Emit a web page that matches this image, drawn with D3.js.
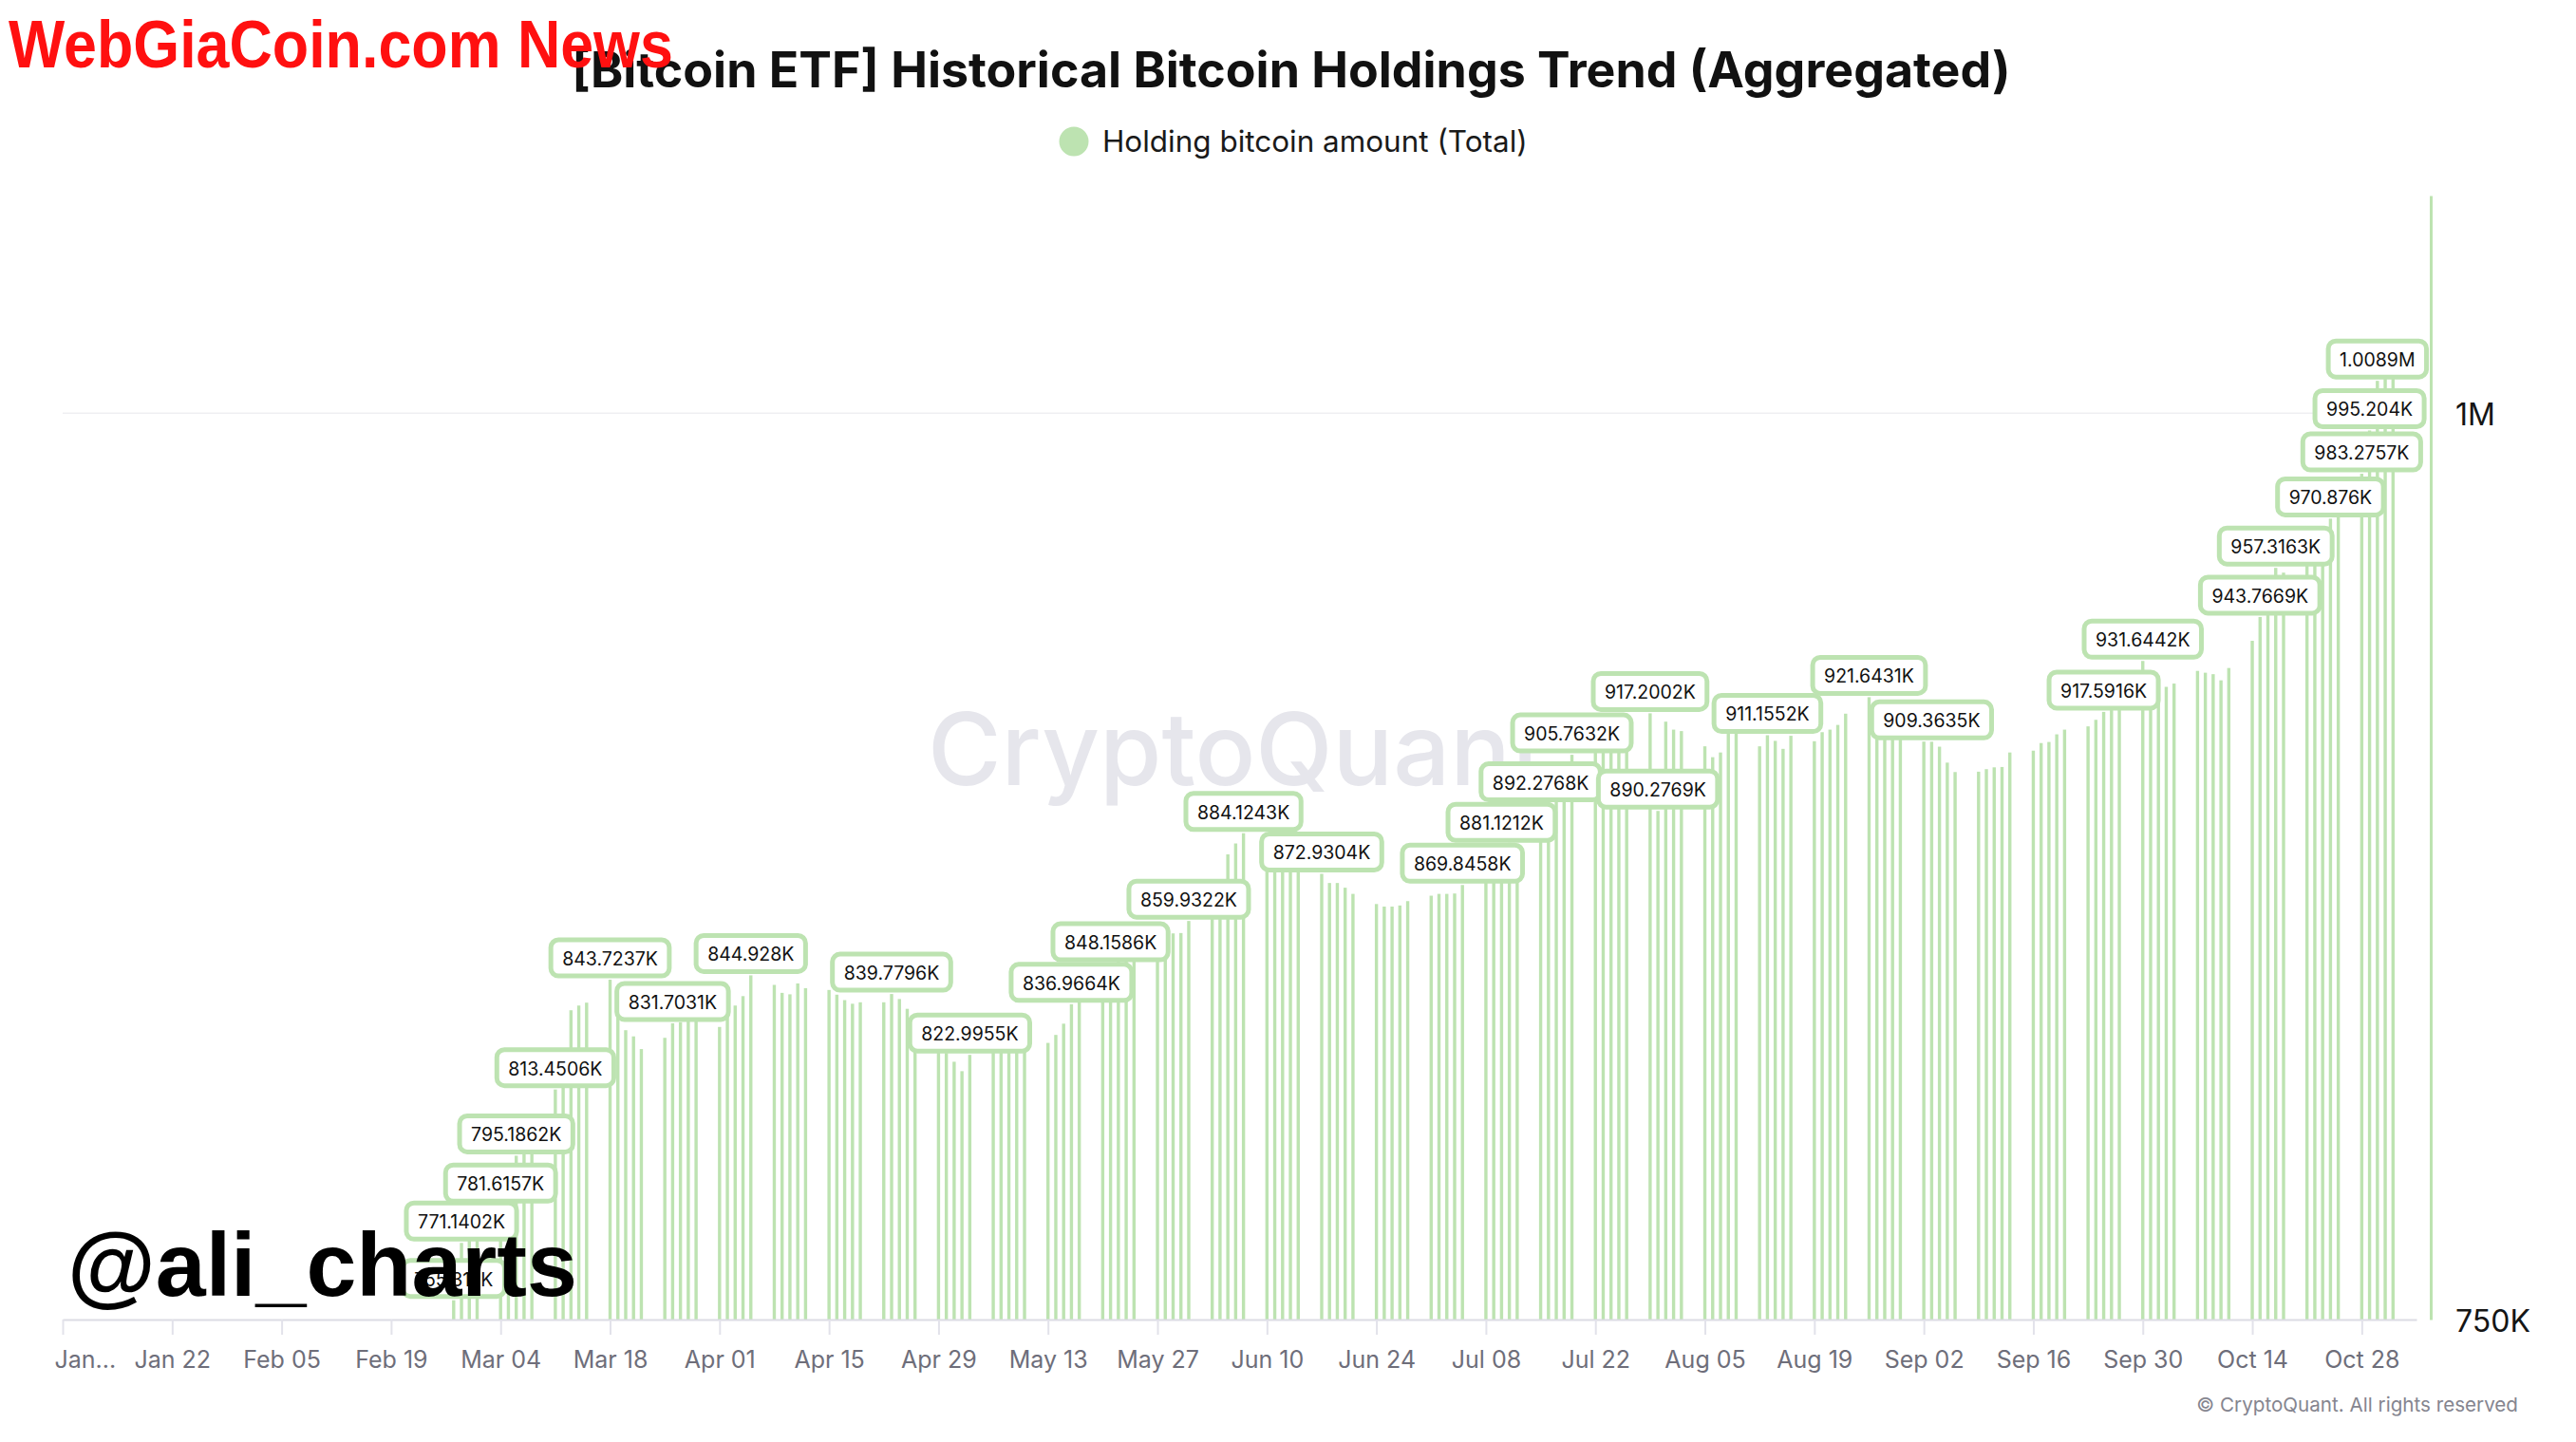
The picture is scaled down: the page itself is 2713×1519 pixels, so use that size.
<!DOCTYPE html>
<html>
<head>
<meta charset="utf-8">
<script src="https://cdn.jsdelivr.net/npm/d3@7/dist/d3.min.js"></script>
<style>
  body { margin: 0; background: #fff; }
  svg { display: block; }
</style>
</head>
<body>
<div id="chart-container"></div>
<script>
// Mondays of each trading week shown (bars below 750K are off the axis)
var weekStarts = [
  "2024-02-26", "2024-03-04", "2024-03-11", "2024-03-18", "2024-03-25",
  "2024-04-01", "2024-04-08", "2024-04-15", "2024-04-22", "2024-04-29",
  "2024-05-06", "2024-05-13", "2024-05-20", "2024-05-27", "2024-06-03",
  "2024-06-10", "2024-06-17", "2024-06-24", "2024-07-01", "2024-07-08",
  "2024-07-15", "2024-07-22", "2024-07-29", "2024-08-05", "2024-08-12",
  "2024-08-19", "2024-08-26", "2024-09-02", "2024-09-09", "2024-09-16",
  "2024-09-23", "2024-09-30", "2024-10-07", "2024-10-14", "2024-10-21",
  "2024-10-28"
];

// holding bitcoin amount (total), in thousands of BTC, Mon..Fri
var holdings = [
  [745.2, 755.3170, 771.1402, 775.0, 778.0],
  [781.6157, 788.0, 795.1862, 797.0, 799.0],
  [813.4506, 819.0, 835.3, 836.6, 837.4],
  [843.7237, 834.5, 829.8, 828.1, 824.6],
  [827.7, 831.7031, 832.0, 832.3, 832.3],
  [830.7, 833.5, 836.6, 839.2, 844.928],
  [842.3, 840.1, 839.7, 842.7, 841.4],
  [840.9, 839.6, 838.1, 837.1, 837.5],
  [837.5, 839.7796, 838.4, 835.7, 828.0],
  [824.0, 823.5, 821.1, 818.5, 822.9955],
  [824.0, 825.0, 825.5, 826.0, 826.5],
  [826.3, 828.5, 831.6, 836.9664, 838.0],
  [842.0, 848.1586, 849.5, 850.5, 851.0],
  [851.5, 852.5, 856.5, 856.6, 859.9322],
  [863.0, 870.8, 878.3, 881.3, 884.1243],
  [878.0, 877.0, 876.0, 875.0, 874.0],
  [872.9304, 870.4, 870.4, 869.1, 867.4],
  [864.6, 863.9, 863.9, 864.2, 865.4],
  [866.9, 867.4, 867.4, 867.5, 869.8458],
  [874.0, 877.0, 881.1212, 881.5, 880.5],
  [892.2768, 893.5, 895.0, 897.0, 905.7632],
  [907.0, 908.0, 907.5, 906.5, 908.5],
  [917.2002, 890.2769, 914.9, 912.7, 912.3],
  [908.1, 905.1, 906.4, 912.0, 913.0],
  [908.1, 911.1552, 909.6, 907.4, 911.0],
  [909.5, 912.0, 912.7, 914.0, 917.1],
  [921.6431, 916.0, 914.0, 912.0, 911.0],
  [909.4, 909.3635, 908.0, 903.6, 901.0],
  [901.1, 901.8, 902.3, 902.4, 906.4],
  [906.9, 909.0, 909.3, 911.4, 912.7],
  [913.6, 915.4, 917.5916, 922.0, 929.0],
  [931.6442, 925.0, 924.0, 924.5, 925.4],
  [928.9, 928.4, 928.0, 926.3, 929.7],
  [937.2, 943.7669, 948.0, 957.3163, 956.0],
  [958.0, 960.0, 962.0, 970.876, 972.0],
  [983.2757, 995.204, 1008.9, 1009.6, 1010.4]
];

// days whose value label is shown
var labelDates = [
  "2024-02-27", "2024-02-28", "2024-03-04", "2024-03-06", "2024-03-11",
  "2024-03-18", "2024-03-26", "2024-04-05", "2024-04-23", "2024-05-03",
  "2024-05-16", "2024-05-21", "2024-05-31", "2024-06-07", "2024-06-17",
  "2024-07-05", "2024-07-10", "2024-07-15", "2024-07-19", "2024-07-29",
  "2024-07-30", "2024-08-13", "2024-08-26", "2024-09-03", "2024-09-25",
  "2024-09-30", "2024-10-15", "2024-10-17", "2024-10-24", "2024-10-28",
  "2024-10-29", "2024-10-30"
];

var xTickDates = [
  "2024-01-08", "2024-01-22", "2024-02-05", "2024-02-19", "2024-03-04",
  "2024-03-18", "2024-04-01", "2024-04-15", "2024-04-29", "2024-05-13",
  "2024-05-27", "2024-06-10", "2024-06-24", "2024-07-08", "2024-07-22",
  "2024-08-05", "2024-08-19", "2024-09-02", "2024-09-16", "2024-09-30",
  "2024-10-14", "2024-10-28"
];
var xTickLabels = [
  "Jan...", "Jan 22", "Feb 05", "Feb 19", "Mar 04", "Mar 18", "Apr 01",
  "Apr 15", "Apr 29", "May 13", "May 27", "Jun 10", "Jun 24", "Jul 08",
  "Jul 22", "Aug 05", "Aug 19", "Sep 02", "Sep 16", "Sep 30", "Oct 14",
  "Oct 28"
];

var yTickValues = [750, 1000];
var yTickLabels = ["750K", "1M"];

var xDomain = ["2024-01-08", "2024-11-04"];
var yDomain = [750, 1060];

var seriesName = "Holding bitcoin amount (Total)";
var title = "[Bitcoin ETF] Historical Bitcoin Holdings Trend (Aggregated)";

if (document.addEventListener) {
  document.addEventListener('DOMContentLoaded', function() {
    visualise();
  });
}

function fmt(v) {
  var s = v >= 1000 ? (v / 1000).toFixed(4) : v.toFixed(4);
  s = s.replace(/0+$/, '').replace(/\.$/, '');
  return s + (v >= 1000 ? 'M' : 'K');
}

// scale font size so that the text spans the given width
function fitText(sel, width) {
  var w = sel.node().getComputedTextLength();
  var fs = parseFloat(sel.attr('font-size'));
  sel.attr('font-size', fs * width / w);
}

function visualise() {
  const svgWidth = 2713;
  const svgHeight = 1519;
  const green = '#bde3b1';
  const parse = d3.utcParse('%Y-%m-%d');

  // plot area
  const left = 66, right = 2545, top = 206, bottom = 1390;
  const yAxisOffset = 15;

  // flatten weeks into daily records
  var data = [];
  weekStarts.forEach(function(w, i) {
    holdings[i].forEach(function(v, j) {
      data.push({ date: d3.utcDay.offset(parse(w), j), value: v });
    });
  });
  var labelSet = new Set(labelDates);

  const svg = d3.select('#chart-container')
    .append('svg')
    .attr('width', svgWidth)
    .attr('height', svgHeight)
    .style('font-family', 'Inter, "Noto Sans", sans-serif');

  var x = d3.scaleUtc()
    .domain(xDomain.map(parse))
    .range([left, right]);

  var y = d3.scaleLinear()
    .domain(yDomain)
    .range([bottom, top]);

  // title
  var t = svg.append('text')
    .attr('x', 1360).attr('y', 92)
    .attr('text-anchor', 'middle')
    .attr('font-size', 48)
    .attr('font-weight', 700)
    .attr('fill', '#111')
    .text(title);
  fitText(t, 1516);

  // legend
  svg.append('circle')
    .attr('cx', 1131).attr('cy', 149).attr('r', 15.5)
    .attr('fill', green);
  var lg = svg.append('text')
    .attr('x', 1161).attr('y', 160)
    .attr('font-size', 30)
    .attr('fill', '#1a1a1a')
    .text(seriesName);
  fitText(lg, 448);

  // watermark behind the bars
  var wm = svg.append('text')
    .attr('x', 977).attr('y', 827)
    .attr('font-size', 106)
    .attr('font-weight', 500)
    .attr('fill', '#e6e6ec')
    .text('CryptoQuant');
  fitText(wm, 650);

  // 1M gridline
  svg.append('line')
    .attr('x1', left).attr('x2', right)
    .attr('y1', y(1000)).attr('y2', y(1000))
    .attr('stroke', '#efeff2')
    .attr('stroke-width', 1.5);

  // bars
  svg.append('g')
    .selectAll('rect')
    .data(data.filter(function(d) { return d.value > yDomain[0]; }))
    .enter()
    .append('rect')
    .attr('x', function(d) { return x(d.date) - 1.7; })
    .attr('y', function(d) { return y(d.value); })
    .attr('width', 3.4)
    .attr('height', function(d) { return bottom - y(d.value); })
    .attr('fill', green);

  // x axis
  var xAxis = svg.append('g')
    .attr('transform', 'translate(0,' + bottom + ')')
    .call(d3.axisBottom(x)
      .tickValues(xTickDates.map(parse))
      .tickFormat(function(d, i) { return xTickLabels[i]; })
      .tickSize(16)
      .tickSizeOuter(0)
      .tickPadding(18));
  xAxis.select('.domain').attr('stroke', '#dcdce4').attr('stroke-width', 2);
  xAxis.selectAll('.tick line').attr('stroke', '#e2e2ea').attr('stroke-width', 2);
  xAxis.selectAll('.tick text')
    .attr('font-size', 25)
    .attr('font-family', 'Inter, sans-serif')
    .attr('fill', '#6e6e7a')
    .attr('dy', 0)
    .attr('y', 51);
  xAxis.select('.tick text').attr('text-anchor', 'start').attr('dx', -9);

  // right y axis, offset from the plot
  var yAxis = svg.append('g')
    .attr('transform', 'translate(' + (right + yAxisOffset) + ',0)')
    .call(d3.axisRight(y)
      .tickValues(yTickValues)
      .tickFormat(function(d, i) { return yTickLabels[i]; })
      .tickSize(0)
      .tickPadding(26));
  yAxis.select('.domain').attr('stroke', green).attr('stroke-width', 3);
  yAxis.selectAll('.tick text')
    .attr('font-size', 32)
    .attr('font-family', 'Inter, sans-serif')
    .attr('fill', '#151515')
    .attr('dy', 12);

  // value labels
  var labels = svg.append('g')
    .selectAll('g')
    .data(data.filter(function(d) { return labelSet.has(d3.utcFormat('%Y-%m-%d')(d.date)); }))
    .enter()
    .append('g')
    .attr('transform', function(d) { return 'translate(' + x(d.date) + ',' + (y(d.value) - 2) + ')'; });
  labels.each(function(d) {
    var g = d3.select(this);
    var r = g.append('rect');
    var tx = g.append('text')
      .attr('text-anchor', 'middle')
      .attr('y', -13)
      .attr('font-size', 19.5)
      .attr('fill', '#111')
      .text(fmt(d.value));
    var w = tx.node().getComputedTextLength() + 24;
    r.attr('x', -w / 2).attr('y', -40)
      .attr('width', w).attr('height', 38)
      .attr('rx', 8)
      .attr('fill', '#fff')
      .attr('stroke', green)
      .attr('stroke-width', 5);
  });

  // copyright
  var cp = svg.append('text')
    .attr('x', 2652).attr('y', 1487)
    .attr('text-anchor', 'end')
    .attr('font-size', 22)
    .attr('fill', '#85858f')
    .text('\u00a9 CryptoQuant. All rights reserved');
  fitText(cp, 339);

  // overlays stamped on top of the chart
  var ali = svg.append('text')
    .attr('x', 71).attr('y', 1365)
    .attr('font-size', 96)
    .attr('font-weight', 700)
    .attr('font-family', '"Liberation Sans", Arial, sans-serif')
    .attr('fill', '#000')
    .text('@ali_charts');
  fitText(ali, 537);

  // condensed red stamp: full-height bold text squeezed horizontally
  var wg = svg.append('text')
    .attr('x', 0).attr('y', 0)
    .attr('font-size', 71)
    .attr('font-weight', 700)
    .attr('font-family', '"Liberation Sans", Arial, sans-serif')
    .attr('fill', '#ff1010')
    .text('WebGiaCoin.com News');
  var wgw = wg.node().getComputedTextLength();
  wg.attr('transform', 'translate(9,71) scale(' + (700 / wgw) + ',1)');
}
</script>
</body>
</html>
